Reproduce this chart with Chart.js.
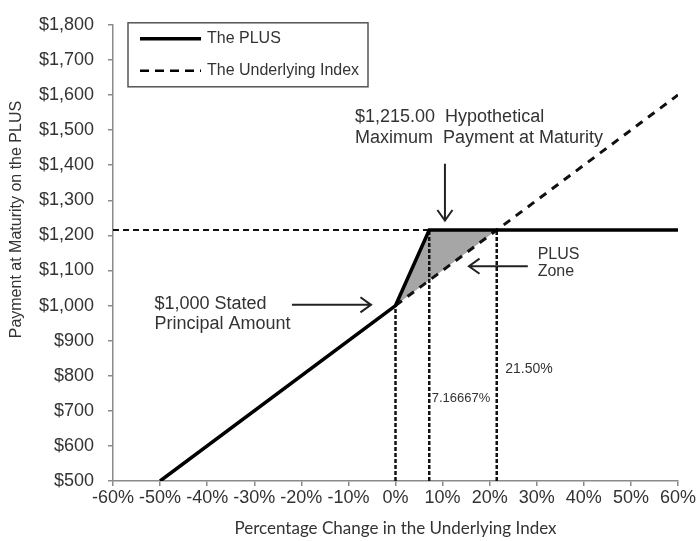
<!DOCTYPE html>
<html>
<head>
<meta charset="utf-8">
<script src="https://cdn.jsdelivr.net/npm/chart.js@4/dist/chart.umd.min.js"></script>
<style>
  html, body { margin: 0; padding: 0; background: #ffffff; }
  #wrap { width: 698px; height: 541px; }
</style>
</head>
<body>
<div id="wrap"><canvas id="c" width="698" height="541"></canvas></div>
<script>
// ---- data ----
const xTickValues = [-60, -50, -40, -30, -20, -10, 0, 10, 20, 30, 40, 50, 60];
const yTickValues = [500, 600, 700, 800, 900, 1000, 1100, 1200, 1300, 1400, 1500, 1600, 1700, 1800];
const plusX = [-50, 0, 7.16667, 60];
const plusY = [500, 1000, 1215, 1215];
const indexX = [0, 60];
const indexY = [1000, 1600];
const principal = 1000;
const capLevel = 1215;
const capX = 7.16667;
const upsideX = 21.5;
const floorY = 500;
const seriesNames = ["The PLUS", "The Underlying Index"];
const xTitle = 'Percentage Change in the Underlying Index';
const yTitle = 'Payment at Maturity on the PLUS';

const toPts = (xs, ys) => xs.map((x, i) => ({ x: x, y: ys[i] }));

const TEXT = '#333333';
const AXIS = '#8a8a8a';
const FONT = '"Liberation Sans", Arial, sans-serif';

const guideStyle = { borderColor: '#111', borderWidth: 2.5, borderDash: [4, 2], pointRadius: 0, fill: false, tension: 0 };

const datasets = [
  // shaded PLUS zone (upper edge) filled to the index segment below
  { label: 'shade', data: [{x: 0, y: principal}, {x: capX, y: capLevel}, {x: upsideX, y: capLevel}],
    borderWidth: 0, borderColor: 'rgba(0,0,0,0)', backgroundColor: '#a6a6a6', fill: '+1', pointRadius: 0, order: 10 },
  { label: 'shadeBase', data: [{x: 0, y: principal}, {x: upsideX, y: capLevel}],
    borderWidth: 0, borderColor: 'rgba(0,0,0,0)', fill: false, pointRadius: 0, order: 11 },
  // horizontal guide at cap level
  Object.assign({ label: 'capGuide', data: [{x: -60, y: capLevel}, {x: upsideX, y: capLevel}] }, guideStyle, { borderWidth: 2, borderDash: [6, 4], order: 5 }),
  // vertical guides
  Object.assign({ label: 'g0', data: [{x: 0, y: floorY}, {x: 0, y: principal}] }, guideStyle, { order: 5 }),
  Object.assign({ label: 'g1', data: [{x: capX, y: floorY}, {x: capX, y: capLevel}] }, guideStyle, { order: 5 }),
  Object.assign({ label: 'g2', data: [{x: upsideX, y: floorY}, {x: upsideX, y: capLevel}] }, guideStyle, { order: 5 }),
  // underlying index
  { label: seriesNames[1], data: toPts(indexX, indexY), borderColor: '#111', borderWidth: 3, borderDash: [8, 7],
    pointRadius: 0, fill: false, order: 2 },
  // PLUS
  { label: seriesNames[0], data: toPts(plusX, plusY), borderColor: '#000', borderWidth: 3.5,
    pointRadius: 0, fill: false, order: 1 }
];

// annotation texts placed in data coordinates
const notes = [
  { lines: ['$1,215.00  Hypothetical', 'Maximum  Payment at Maturity'], x: -8.6, y: 1538, size: 18, gap: 21 },
  { lines: ['$1,000 Stated', 'Principal Amount'], x: -51.2, y: 1003, size: 18, gap: 20 },
  { lines: ['PLUS', 'Zone'], x: 30.2, y: 1146, size: 16, gap: 17 },
  { lines: ['21.50%'], x: 23.3, y: 819, size: 14, gap: 0 },
  { lines: ['7.16667%'], x: 7.7, y: 734, size: 13, gap: 0 }
];
const arrows = [
  { x1: 10.5, y1: 1404, x2: 10.5, y2: 1242 },
  { x1: -22, y1: 1002, x2: -5.2, y2: 1002 },
  { x1: 28.1, y1: 1112, x2: 15.6, y2: 1112 }
];

const annotPlugin = {
  id: 'annot',
  afterDatasetsDraw(chart) {
    const ctx = chart.ctx, xs = chart.scales.x, ys = chart.scales.y;
    ctx.save();
    ctx.fillStyle = TEXT;
    ctx.textAlign = 'left';
    ctx.textBaseline = 'middle';
    notes.forEach(n => {
      ctx.font = n.size + 'px ' + FONT;
      const px = xs.getPixelForValue(n.x), py = ys.getPixelForValue(n.y);
      n.lines.forEach((t, i) => ctx.fillText(t, px, py + i * n.gap));
    });
    ctx.strokeStyle = '#222';
    ctx.lineWidth = 2;
    arrows.forEach(a => {
      const x1 = xs.getPixelForValue(a.x1), y1 = ys.getPixelForValue(a.y1);
      const x2 = xs.getPixelForValue(a.x2), y2 = ys.getPixelForValue(a.y2);
      const ang = Math.atan2(y2 - y1, x2 - x1);
      const L = 13, spread = 0.62;
      ctx.beginPath();
      ctx.moveTo(x1, y1); ctx.lineTo(x2, y2);
      ctx.moveTo(x2 - L * Math.cos(ang - spread), y2 - L * Math.sin(ang - spread));
      ctx.lineTo(x2, y2);
      ctx.lineTo(x2 - L * Math.cos(ang + spread), y2 - L * Math.sin(ang + spread));
      ctx.stroke();
    });
    // y axis title
    ctx.save();
    ctx.translate(17, ys.getPixelForValue(1245));
    ctx.rotate(-Math.PI / 2);
    ctx.textAlign = 'center';
    ctx.font = '16px ' + FONT;
    ctx.fillText(yTitle, 0, 0);
    ctx.restore();
    // legend box
    const ca = chart.chartArea;
    const bx = ca.left + 15, by = ca.top - 2, bw = 240, bh = 64;
    ctx.fillStyle = '#fff';
    ctx.fillRect(bx, by, bw, bh);
    ctx.strokeStyle = '#555';
    ctx.lineWidth = 1.5;
    ctx.strokeRect(bx, by, bw, bh);
    ctx.strokeStyle = '#000';
    ctx.lineWidth = 3.5;
    ctx.beginPath(); ctx.moveTo(bx + 12, by + 16); ctx.lineTo(bx + 73, by + 16); ctx.stroke();
    ctx.lineWidth = 2.5;
    ctx.setLineDash([9, 6]);
    ctx.beginPath(); ctx.moveTo(bx + 12, by + 48); ctx.lineTo(bx + 73, by + 48); ctx.stroke();
    ctx.setLineDash([]);
    ctx.fillStyle = TEXT;
    ctx.font = '16px ' + FONT;
    ctx.fillText(seriesNames[0], bx + 79, by + 16);
    ctx.fillText(seriesNames[1], bx + 79, by + 48);
    ctx.restore();
  }
};

new Chart(document.getElementById('c'), {
  type: 'line',
  data: { datasets: datasets },
  plugins: [annotPlugin],
  options: {
    responsive: false,
    devicePixelRatio: 1,
    animation: false,
    layout: { padding: { left: 0, right: 20, top: 20, bottom: 0 } },
    plugins: { legend: { display: false }, tooltip: { enabled: false }, filler: { propagate: false } },
    scales: {
      x: {
        type: 'linear', min: -60, max: 60,
        afterFit: s => { s.height = 60; },
        afterBuildTicks: s => { s.ticks = xTickValues.map(v => ({ value: v })); },
        ticks: { color: TEXT, font: { family: FONT, size: 18 }, padding: 1, maxRotation: 0, autoSkip: false,
                 callback: v => v + '%' },
        grid: { display: true, drawOnChartArea: false, drawTicks: true, tickLength: 5, color: AXIS, lineWidth: 1.5 },
        border: { display: true, color: AXIS, width: 1.5 },
        title: { display: true, text: xTitle, color: TEXT,
                 font: { family: 'Lato, "Open Sans", sans-serif', size: 17 }, padding: { top: 0, bottom: 2 } }
      },
      y: {
        type: 'linear', min: 500, max: 1800,
        afterFit: s => { s.width = 113; },
        afterBuildTicks: s => { s.ticks = yTickValues.map(v => ({ value: v })); },
        ticks: { color: TEXT, font: { family: FONT, size: 18 }, padding: 14, autoSkip: false,
                 callback: v => '$' + v.toLocaleString('en-US') },
        grid: { display: true, drawOnChartArea: false, drawTicks: true, tickLength: 5, color: AXIS, lineWidth: 1.5 },
        border: { display: true, color: AXIS, width: 1.5 }
      }
    }
  }
});
</script>
</body>
</html>
